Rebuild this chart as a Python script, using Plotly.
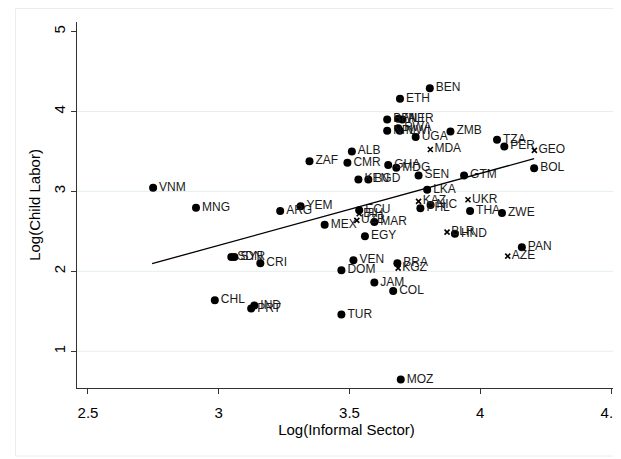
import plotly.graph_objects as go

# Countries shown with filled circles
dot_names = ["BEN", "ETH", "BFA", "MLI", "NER", "NPL", "RWA", "MWI", "UGA", "ZMB",
             "TZA", "PER", "BOL", "ALB", "ZAF", "CMR", "GHA", "MDG", "KEN", "BGD",
             "SEN", "GTM", "LKA", "VNM", "MNG", "ARG", "YEM", "ECU", "MEX", "MAR",
             "EGY", "PHL", "NIC", "THA", "ZWE", "HND", "PAN", "SDN", "SYR", "CRI",
             "VEN", "DOM", "BRA", "JAM", "COL", "CHL", "IND", "PRT", "TUR", "MOZ"]
dot_x = [3.807, 3.693, 3.644, 3.686, 3.702, 3.644, 3.686, 3.692, 3.753, 3.886,
         4.064, 4.092, 4.206, 3.509, 3.347, 3.492, 3.648, 3.679, 3.534, 3.572,
         3.764, 3.938, 3.797, 2.749, 2.913, 3.235, 3.313, 3.537, 3.405, 3.595,
         3.559, 3.771, 3.810, 3.961, 4.083, 3.903, 4.159, 3.048, 3.060, 3.159,
         3.515, 3.469, 3.683, 3.595, 3.667, 2.985, 3.136, 3.124, 3.469, 3.696]
dot_y = [4.290, 4.160, 3.900, 3.910, 3.900, 3.760, 3.790, 3.760, 3.680, 3.750,
         3.646, 3.563, 3.290, 3.500, 3.379, 3.360, 3.330, 3.296, 3.150, 3.150,
         3.200, 3.200, 3.020, 3.046, 2.796, 2.754, 2.813, 2.763, 2.584, 2.616,
         2.440, 2.790, 2.830, 2.754, 2.730, 2.470, 2.300, 2.180, 2.180, 2.100,
         2.138, 2.013, 2.100, 1.860, 1.754, 1.638, 1.571, 1.534, 1.459, 0.646]

# Countries shown with small crosses
cross_names = ["MDA", "GEO", "UKR", "KAZ", "UZB", "BIH", "BLR", "AZE", "KGZ"]
cross_x = [3.809, 4.207, 3.953, 3.764, 3.528, 3.537, 3.873, 4.105, 3.686]
cross_y = [3.525, 3.513, 2.896, 2.875, 2.638, 2.720, 2.490, 2.190, 2.040]

# Fitted line
fit_x = [2.745, 4.206]
fit_y = [2.096, 3.410]

x_ticks = [2.5, 3, 3.5, 4, 4.5]
x_tick_text = ["2.5", "3", "3.5", "4", "4.5"]
y_ticks = [1, 2, 3, 4, 5]
y_tick_text = ["1", "2", "3", "4", "5"]
grid_vals = [1, 2, 3, 4]

FONT = "Liberation Sans, Arial, sans-serif"

fig = go.Figure()
fig.add_trace(go.Scatter(
    x=dot_x, y=dot_y, mode="markers+text", text=dot_names,
    textposition="middle right",
    marker=dict(symbol="circle", size=8, color="black"),
    textfont=dict(family=FONT, size=12, color="#1a1a1a"),
    showlegend=False, hoverinfo="skip"))
fig.add_trace(go.Scatter(
    x=cross_x, y=cross_y, mode="markers+text", text=cross_names,
    textposition="middle right",
    marker=dict(symbol="x-thin", size=5, color="black",
                line=dict(color="black", width=1.6)),
    textfont=dict(family=FONT, size=12, color="#1a1a1a"),
    showlegend=False, hoverinfo="skip"))
fig.add_trace(go.Scatter(
    x=fit_x, y=fit_y, mode="lines",
    line=dict(color="black", width=1.3),
    showlegend=False, hoverinfo="skip"))

# figure is offset by the page's 8px body margin; plot area 544 x 366 px
L, T, B, R = 69, 14, 79, 8
PW, PH = 621 - L - R, 459 - T - B

shapes = []
for g in grid_vals:
    shapes.append(dict(type="line", xref="paper", yref="y", x0=0, x1=1, y0=g, y1=g,
                       line=dict(color="#E6EEF0", width=1), layer="below"))
# outer light frame of graph region
shapes.append(dict(type="rect", xref="paper", yref="paper",
                   x0=(7 - L) / PW, x1=1.2,
                   y0=(PH + T - 448) / PH, y1=(PH + T - 0.5) / PH,
                   line=dict(color="#E6EEF0", width=1), layer="below"))

fig.update_layout(
    width=621, height=459,
    margin=dict(l=L, r=R, t=T, b=B),
    paper_bgcolor="white", plot_bgcolor="white",
    font=dict(family=FONT, size=15, color="black"),
    shapes=shapes,
    xaxis=dict(range=[2.458, 4.519], tickvals=x_ticks, ticktext=x_tick_text,
               ticks="outside", ticklen=5, tickcolor="#333", showline=True,
               linecolor="#333", linewidth=1, showgrid=False, zeroline=False,
               tickfont=dict(size=15), ticklabelstandoff=6,
               title=dict(text="Log(Informal Sector)", font=dict(size=15), standoff=4)),
    yaxis=dict(range=[0.54, 5.12], tickvals=y_ticks, ticktext=y_tick_text,
               tickangle=-90, ticks="outside", ticklen=5, tickcolor="#333",
               showline=True, linecolor="#333", linewidth=1, showgrid=False,
               zeroline=False, tickfont=dict(size=15),
               title=dict(text="Log(Child Labor)", font=dict(size=15), standoff=6)),
)

fig.write_html("out.html")
